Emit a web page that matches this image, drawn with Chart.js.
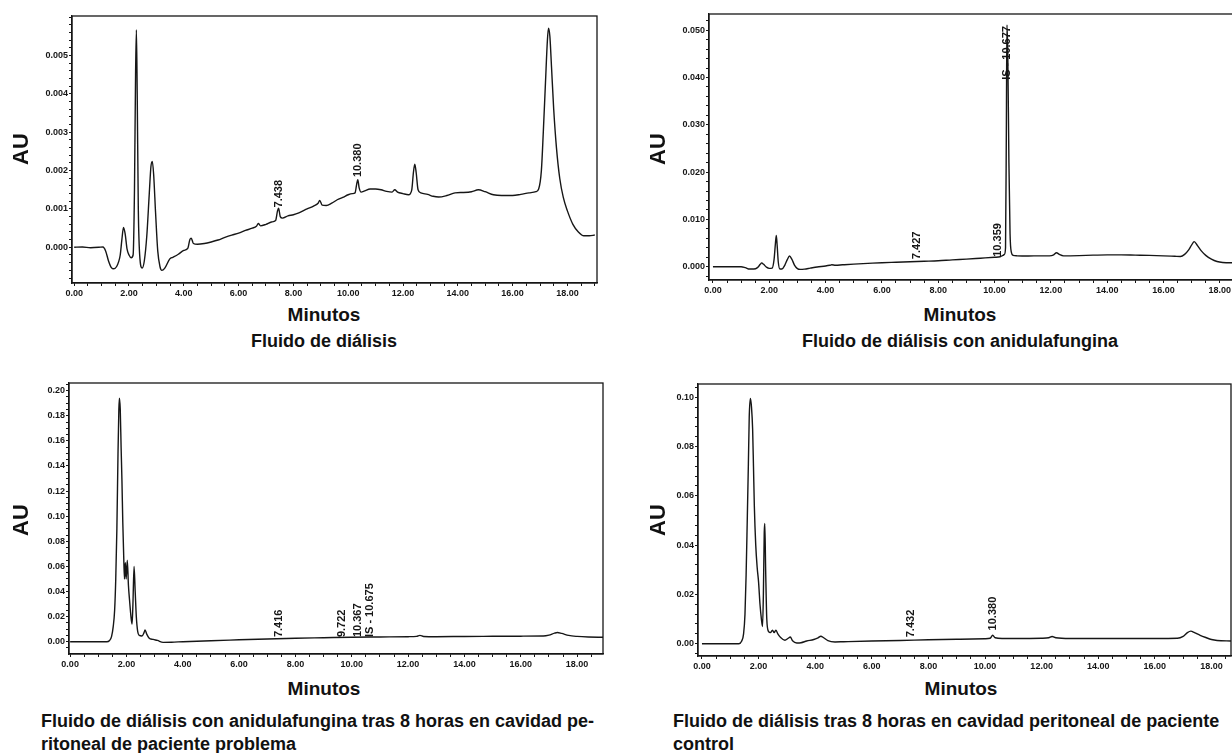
<!DOCTYPE html>
<html><head><meta charset="utf-8">
<script src="https://cdn.jsdelivr.net/npm/chart.js@4.4.1/dist/chart.umd.min.js"></script>
<style>
html,body{margin:0;padding:0;width:1232px;height:753px;overflow:hidden;background:#fff;}
.box{position:absolute;}
.t{position:absolute;font-family:"Liberation Sans",Arial,sans-serif;font-weight:bold;color:#111;white-space:nowrap;line-height:1;}
.au{font-size:22px;transform:translate(-50%,-50%) rotate(-90deg);}
.min{font-size:19px;transform:translate(-50%,-50%);}
.cap{font-size:18px;line-height:23px;}
</style></head><body>

<div class="box" style="left:0;top:0"><canvas id="c1" width="610" height="300"></canvas></div>
<div class="box" style="left:620px;top:0"><canvas id="c2" width="645" height="300"></canvas></div>
<div class="box" style="left:0;top:370px"><canvas id="c3" width="615" height="305"></canvas></div>
<div class="box" style="left:620px;top:370px"><canvas id="c4" width="625" height="305"></canvas></div>

<div class="t au" style="left:21px;top:149px">AU</div>
<div class="t au" style="left:658px;top:149px">AU</div>
<div class="t au" style="left:21px;top:520px">AU</div>
<div class="t au" style="left:658px;top:520px">AU</div>

<div class="t min" style="left:324px;top:314px">Minutos</div>
<div class="t min" style="left:960px;top:314px">Minutos</div>
<div class="t min" style="left:324px;top:688px">Minutos</div>
<div class="t min" style="left:961px;top:688px">Minutos</div>

<div class="t cap" style="left:324px;top:330px;transform:translateX(-50%)">Fluido de diálisis</div>
<div class="t cap" style="left:960px;top:330px;transform:translateX(-50%)">Fluido de diálisis con anidulafungina</div>
<div class="t cap" style="left:41px;top:710px">Fluido de diálisis con anidulafungina tras 8 horas en cavidad pe-<br>ritoneal de paciente problema</div>
<div class="t cap" style="left:673px;top:710px">Fluido de diálisis tras 8 horas en cavidad peritoneal de paciente<br>control</div>

<script>
// ---------- shared axis labels ----------
const xTickLabels = ['0.00','2.00','4.00','6.00','8.00','10.00','12.00','14.00','16.00','18.00'];

// ---------- Panel 1: Fluido de diálisis (AU) ----------
const p1Time = [0,0.3,0.6,0.9,1.05,1.15,1.25,1.35,1.45,1.55,1.62,1.68,1.74,1.8,1.86,1.93,2.0,2.08,2.15,2.2,2.24,2.27,2.3,2.34,2.4,2.48,2.56,2.65,2.74,2.8,2.85,2.9,2.97,3.05,3.13,3.2,3.3,3.49,3.6,3.8,4.0,4.15,4.22,4.27,4.35,4.5,4.75,5.0,5.25,5.5,5.75,6.0,6.25,6.5,6.65,6.72,6.8,7.0,7.2,7.35,7.42,7.46,7.52,7.6,7.8,8.0,8.2,8.5,8.75,8.9,8.96,9.05,9.2,9.4,9.6,9.8,10.0,10.15,10.25,10.31,10.35,10.4,10.47,10.6,10.8,11.0,11.2,11.4,11.6,11.7,11.8,12.0,12.2,12.32,12.38,12.43,12.48,12.55,12.65,12.9,13.1,13.3,13.6,13.9,14.2,14.5,14.75,15.0,15.3,15.6,16.0,16.3,16.6,16.85,16.95,17.05,17.12,17.2,17.27,17.31,17.36,17.42,17.5,17.6,17.72,17.85,18.0,18.2,18.4,18.6,18.8,19.0];
const p1AU = [0.00000,0.00001,-0.00001,0.00000,0.00001,-0.00010,-0.00035,-0.00052,-0.00056,-0.00050,-0.00038,-0.00020,0.00020,0.00052,0.00035,-0.00005,-0.00020,-0.00027,-0.00020,0.00150,0.00450,0.00567,0.00400,0.00100,-0.00030,-0.00054,-0.00035,0.00030,0.00140,0.00210,0.00224,0.00190,0.00090,-0.00010,-0.00050,-0.00060,-0.00055,-0.00030,-0.00026,-0.00018,-0.00008,-0.00002,0.00020,0.00024,0.00010,0.00008,0.00010,0.00014,0.00019,0.00026,0.00032,0.00037,0.00044,0.00050,0.00055,0.00062,0.00056,0.00060,0.00066,0.00070,0.00095,0.00102,0.00080,0.00076,0.00082,0.00085,0.00090,0.00100,0.00108,0.00115,0.00122,0.00110,0.00109,0.00115,0.00124,0.00130,0.00137,0.00140,0.00142,0.00165,0.00176,0.00155,0.00144,0.00147,0.00152,0.00152,0.00150,0.00146,0.00144,0.00150,0.00144,0.00140,0.00137,0.00150,0.00195,0.00217,0.00195,0.00150,0.00142,0.00138,0.00133,0.00131,0.00135,0.00142,0.00143,0.00145,0.00150,0.00145,0.00137,0.00135,0.00135,0.00138,0.00142,0.00145,0.00152,0.00200,0.00300,0.00430,0.00540,0.00571,0.00550,0.00470,0.00360,0.00260,0.00180,0.00130,0.00095,0.00060,0.00040,0.00030,0.00030,0.00032];
const p1YTickLabels = ['0.000','0.001','0.002','0.003','0.004','0.005'];
const p1PeakTime = [7.46, 10.34];
const p1PeakAU = [0.00104, 0.00183];
const p1PeakText = ['7.438', '10.380'];

// ---------- Panel 2: Fluido de diálisis con anidulafungina (AU) ----------
const p2Time = [0,0.5,1.0,1.15,1.3,1.45,1.58,1.68,1.73,1.8,1.9,2.0,2.1,2.17,2.22,2.25,2.28,2.32,2.38,2.45,2.55,2.64,2.72,2.8,2.9,3.0,3.1,3.25,3.45,3.7,4.0,4.15,4.22,4.35,4.6,5.0,5.5,6.0,6.5,7.0,7.5,8.0,8.5,9.0,9.5,10.0,10.2,10.3,10.35,10.39,10.42,10.44,10.47,10.51,10.55,10.6,10.66,10.8,11.2,11.6,11.95,12.1,12.2,12.3,12.45,13.0,13.5,14.0,14.5,15.0,15.5,16.0,16.4,16.6,16.75,16.9,17.0,17.09,17.2,17.35,17.5,17.7,17.9,18.1,18.4,18.7,19.0];
const p2AU = [0.0000,0.0000,0.0000,-0.0002,-0.0005,-0.0005,-0.0002,0.0005,0.0008,0.0005,-0.0001,-0.00035,-0.0003,0.0015,0.0050,0.0066,0.0045,0.0010,-0.0005,-0.0005,0.0003,0.0015,0.00226,0.0016,0.0003,-0.0004,-0.00056,-0.0005,-0.0003,-0.00005,0.00015,0.0003,0.0004,0.0003,0.0004,0.00055,0.0007,0.00085,0.00095,0.00105,0.00115,0.00125,0.00145,0.0016,0.0018,0.0020,0.0021,0.0024,0.0026,0.0040,0.0300,0.0511,0.0450,0.0220,0.0070,0.0030,0.0024,0.0023,0.00226,0.0023,0.0023,0.0025,0.00296,0.0026,0.0023,0.00235,0.00245,0.0025,0.0025,0.00245,0.0024,0.0023,0.0022,0.00215,0.0026,0.0036,0.0046,0.0053,0.0045,0.0033,0.0024,0.0016,0.0011,0.0009,0.00085,0.00085,0.00085];
const p2YTickLabels = ['0.000','0.010','0.020','0.030','0.040','0.050'];
const p2PeakTime = [7.26, 10.13, 10.44];
const p2PeakAU = [0.0016, 0.0021, 0.0395];
const p2PeakText = ['7.427', '10.359', 'IS - 10.677'];

// ---------- Panel 3: con anidulafungina tras 8 h, paciente problema (AU) ----------
const p3Time = [0,0.5,1.0,1.3,1.4,1.47,1.53,1.58,1.62,1.66,1.7,1.73,1.75,1.78,1.81,1.84,1.87,1.9,1.93,1.96,1.99,2.03,2.07,2.11,2.16,2.2,2.23,2.27,2.31,2.35,2.4,2.46,2.55,2.62,2.66,2.72,2.8,2.95,3.1,3.3,3.6,4.0,5.0,6.0,7.0,8.0,9.0,10.0,11.0,12.0,12.3,12.42,12.55,13.0,14.0,15.0,16.0,16.8,17.0,17.2,17.3,17.45,17.7,18.0,18.4,18.92];
const p3AU = [0,0,0,0,0.001,0.004,0.012,0.025,0.05,0.09,0.15,0.185,0.194,0.185,0.155,0.128,0.095,0.07,0.05,0.063,0.05,0.065,0.045,0.033,0.02,0.014,0.03,0.06,0.04,0.02,0.008,0.005,0.0045,0.007,0.0093,0.006,0.003,0.0018,0.001,-0.0005,-0.0004,0,0.0008,0.0015,0.0022,0.0028,0.0032,0.0036,0.0038,0.004,0.0042,0.005,0.0042,0.004,0.0042,0.0043,0.0044,0.0045,0.0052,0.0068,0.0073,0.0066,0.005,0.0042,0.0037,0.0035];
const p3YTickLabels = ['0.00','0.02','0.04','0.06','0.08','0.10','0.12','0.14','0.16','0.18','0.20'];
const p3PeakTime = [7.40, 9.65, 10.21, 10.63];
const p3PeakAU = [0.0037, 0.0037, 0.0037, 0.0037];
const p3PeakText = ['7.416', '9.722', '10.367', 'IS - 10.675'];

// ---------- Panel 4: tras 8 h, paciente control (AU) ----------
const p4Time = [0,0.5,1.0,1.3,1.4,1.47,1.52,1.56,1.6,1.64,1.67,1.71,1.75,1.79,1.82,1.85,1.9,1.95,2.0,2.05,2.1,2.14,2.17,2.2,2.22,2.25,2.29,2.35,2.42,2.49,2.55,2.61,2.68,2.78,2.93,3.05,3.12,3.2,3.35,3.5,3.7,3.95,4.1,4.2,4.3,4.45,4.7,5.0,6.0,7.0,8.0,9.0,10.0,10.18,10.27,10.36,10.6,11.0,12.0,12.25,12.37,12.5,13.0,14.0,15.0,16.0,16.8,17.0,17.15,17.27,17.4,17.6,17.8,18.0,18.2,18.69];
const p4AU = [0,0,0,0,0.001,0.004,0.012,0.028,0.05,0.073,0.092,0.0995,0.096,0.087,0.072,0.056,0.04,0.031,0.025,0.016,0.01,0.007,0.02,0.045,0.0488,0.03,0.01,0.005,0.0045,0.0055,0.0045,0.0055,0.004,0.0025,0.0014,0.0022,0.0027,0.0012,0.0003,0.0004,0.0011,0.0017,0.0024,0.003,0.0024,0.0012,0.0007,0.0008,0.0011,0.0013,0.0016,0.0018,0.002,0.0022,0.0034,0.0024,0.0021,0.0021,0.0022,0.0024,0.0029,0.0024,0.0021,0.0021,0.0021,0.0021,0.0022,0.003,0.0045,0.0051,0.0045,0.0034,0.0025,0.0017,0.0013,0.0011];
const p4YTickLabels = ['0.00','0.02','0.04','0.06','0.08','0.10'];
const p4PeakTime = [7.38, 10.28];
const p4PeakAU = [0.0026, 0.0054];
const p4PeakText = ['7.432', '10.380'];

// ---------- helpers ----------
const TICK_FONT = {family:'"Liberation Sans", Arial, sans-serif', size:9, weight:'bold'};
const INK = '#161616';

function tickList(min, max, step) {
  const out = [];
  const start = Math.ceil(min / step - 1e-9);
  const end = Math.floor(max / step + 1e-9);
  for (let i = start; i <= end; i++) out.push(+(i * step).toFixed(8));
  return out;
}
function labelMap(labels) {
  const m = new Map();
  labels.forEach(l => m.set(+parseFloat(l).toFixed(8), l));
  return m;
}

const framePlugin = {
  id: 'frame',
  afterDraw(chart) {
    const a = chart.chartArea, ctx = chart.ctx;
    ctx.save();
    ctx.strokeStyle = INK; ctx.lineWidth = 1.3;
    ctx.strokeRect(a.left, a.top, a.right - a.left, a.bottom - a.top);
    ctx.restore();
  }
};
const peakLabelPlugin = {
  id: 'peakLabels',
  afterDatasetsDraw(chart, args, opts) {
    const ctx = chart.ctx, xs = chart.scales.x, ys = chart.scales.y;
    ctx.save();
    ctx.fillStyle = INK;
    ctx.font = 'bold 11px "Liberation Sans", Arial, sans-serif';
    ctx.textAlign = 'left'; ctx.textBaseline = 'middle';
    opts.t.forEach((t, i) => {
      const px = xs.getPixelForValue(t), py = ys.getPixelForValue(opts.v[i]);
      ctx.save(); ctx.translate(px, py); ctx.rotate(-Math.PI / 2);
      ctx.fillText(opts.text[i], 0, 0);
      ctx.restore();
    });
    ctx.restore();
  }
};

function makeChart(id, c) {
  const xMajor = labelMap(xTickLabels), yMajor = labelMap(c.yLabels);
  const xTicks = tickList(Math.max(0, c.xMin), c.xMax, 0.5);
  const yTicks = tickList(c.yMin, c.yMax, c.yMinor);
  new Chart(document.getElementById(id), {
    type: 'line',
    data: { datasets: [{
      data: c.time.map((x, i) => ({x, y: c.au[i]})),
      borderColor: INK, borderWidth: 1.4, pointRadius: 0,
      cubicInterpolationMode: 'monotone', fill: false
    }]},
    options: {
      responsive: false, animation: false, events: [],
      layout: { padding: { top: c.padTop, right: c.padRight, left: 0, bottom: 0 } },
      plugins: { legend: {display:false}, tooltip: {enabled:false},
                 peakLabels: { t: c.peakT, v: c.peakV, text: c.peakText } },
      scales: {
        x: {
          type: 'linear', min: c.xMin, max: c.xMax,
          afterBuildTicks: s => { s.ticks = xTicks.map(v => ({value: v})); },
          afterFit: s => { s.height = c.xAxisH; },
          ticks: { autoSkip: false, maxRotation: 0, minRotation: 0, padding: 2, color: INK, font: TICK_FONT,
                   callback: v => xMajor.get(+(+v).toFixed(8)) || '' },
          grid: { drawOnChartArea: false, drawTicks: true, tickLength: 3, tickColor: INK, tickWidth: 1 },
          border: { display: true, color: INK, width: 1.3 }
        },
        y: {
          type: 'linear', min: c.yMin, max: c.yMax,
          afterBuildTicks: s => { s.ticks = yTicks.map(v => ({value: v})); },
          afterFit: s => { s.width = c.yAxisW; },
          ticks: { autoSkip: false, padding: 1, color: INK, font: TICK_FONT,
                   callback: v => yMajor.get(+(+v).toFixed(8)) || '' },
          grid: { drawOnChartArea: false, drawTicks: true, tickLength: 3, tickColor: INK, tickWidth: 1 },
          border: { display: true, color: INK, width: 1.3 }
        }
      }
    },
    plugins: [framePlugin, peakLabelPlugin]
  });
}

makeChart('c1', {time:p1Time, au:p1AU, yLabels:p1YTickLabels, peakT:p1PeakTime, peakV:p1PeakAU, peakText:p1PeakText,
  xMin:-0.08, xMax:19.08, yMin:-0.00093, yMax:0.00603, yMinor:0.0002,
  yAxisW:72, xAxisH:17, padTop:16, padRight:13});
makeChart('c2', {time:p2Time, au:p2AU, yLabels:p2YTickLabels, peakT:p2PeakTime, peakV:p2PeakAU, peakText:p2PeakText,
  xMin:-0.14, xMax:19.0, yMin:-0.00281, yMax:0.05342, yMinor:0.002,
  yAxisW:89, xAxisH:20, padTop:14, padRight:17});
makeChart('c3', {time:p3Time, au:p3AU, yLabels:p3YTickLabels, peakT:p3PeakTime, peakV:p3PeakAU, peakText:p3PeakText,
  xMin:-0.04, xMax:18.92, yMin:-0.0098, yMax:0.2061, yMinor:0.005,
  yAxisW:69, xAxisH:21, padTop:13, padRight:12});
makeChart('c4', {time:p4Time, au:p4AU, yLabels:p4YTickLabels, peakT:p4PeakTime, peakV:p4PeakAU, peakText:p4PeakText,
  xMin:-0.14, xMax:18.69, yMin:-0.005, yMax:0.1054, yMinor:0.004,
  yAxisW:78, xAxisH:19, padTop:14, padRight:14});
</script>
</body></html>
